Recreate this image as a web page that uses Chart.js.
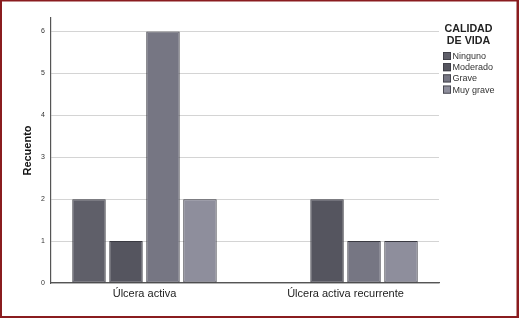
<!DOCTYPE html>
<html>
<head>
<meta charset="utf-8">
<script src="https://cdn.jsdelivr.net/npm/chart.js@4/dist/chart.umd.min.js"></script>
<style>
  html, body { margin: 0; padding: 0; background: #fff; }
  #wrap { width: 519px; height: 318px; position: relative; }
  canvas { display: block; }
</style>
</head>
<body>
<div id="wrap"><canvas id="c" width="519" height="318"></canvas></div>
<script>
// ---- Data ----
const categories = ["Úlcera activa", "Úlcera activa recurrente"];
const seriesNames = ["Ninguno", "Moderado", "Grave", "Muy grave"];
const ninguno  = [2, 0];
const moderado = [1, 2];
const grave    = [6, 1];
const muyGrave = [2, 1];
const yTicks = [0, 1, 2, 3, 4, 5, 6];
const legendTitle = ["CALIDAD", "DE VIDA"];
const yTitle = "Recuento";

const seriesValues = [ninguno, moderado, grave, muyGrave];
const colors = ["#5f5f69", "#55555f", "#767683", "#8e8e9c"];

const datasets = seriesNames.map((name, i) => ({
  label: name,
  data: seriesValues[i].map((v, j) => ({ x: j, y: v })),
  backgroundColor: colors[i],
  borderColor: "#3a3a42",
  borderWidth: 1,
  borderSkipped: false,
  categoryPercentage: 0.736,
  barPercentage: 0.905
}));

const FONT = "'Liberation Sans', Arial, sans-serif";

const extras = {
  id: 'extras',
  afterDraw(chart) {
    const ctx = chart.ctx;
    ctx.save();
    // legend
    const lx = 468.5;
    ctx.fillStyle = "#222";
    ctx.font = "bold 10.7px " + FONT;
    ctx.textAlign = "center";
    ctx.textBaseline = "middle";
    legendTitle.forEach((t, i) => ctx.fillText(t, lx, 29 + i * 12));
    ctx.font = "9px " + FONT;
    ctx.textAlign = "left";
    chart.data.datasets.forEach((ds, i) => {
      const y = 56 + i * 11.2;
      ctx.fillStyle = ds.backgroundColor;
      ctx.fillRect(443, y - 4, 8, 8);
      ctx.strokeStyle = "#3a3a42";
      ctx.lineWidth = 0.8;
      ctx.strokeRect(443.4, y - 3.6, 7.2, 7.2);
      ctx.fillStyle = "#333";
      ctx.fillText(ds.label, 452.5, y + 0.5);
    });
    // frame
    ctx.fillStyle = "#8a1c1f";
    ctx.fillRect(0, 0, 519, 1.5);
    ctx.fillRect(0, 0, 2, 318);
    ctx.fillRect(516.5, 0, 2.5, 318);
    ctx.fillRect(0, 316, 519, 2);
    ctx.restore();
  }
};

new Chart(document.getElementById('c'), {
  type: 'bar',
  data: { datasets },
  plugins: [extras],
  options: {
    responsive: false,
    animation: false,
    layout: { padding: { top: 18, right: 80, left: 0, bottom: 0 } },
    plugins: { legend: { display: false }, tooltip: { enabled: false } },
    scales: {
      x: {
        type: 'linear',
        offset: false,
        min: -0.465,
        max: 1.465,
        afterBuildTicks(scale) { scale.ticks = categories.map((_, i) => ({ value: i })); },
        afterFit(scale) { scale.height = 35; },
        grid: { display: false, drawTicks: false, offset: false },
        border: { display: true, color: "#555", width: 1.2 },
        ticks: {
          padding: 4,
          color: "#222",
          font: { family: FONT, size: 11 },
          callback: (v) => categories[v] ?? ''
        }
      },
      y: {
        min: 0,
        max: 6.32,
        afterBuildTicks(scale) { scale.ticks = yTicks.map(v => ({ value: v })); },
        afterFit(scale) { scale.width = 51; },
        grid: { color: "#d4d4d4", lineWidth: 1, drawTicks: false },
        border: { display: true, color: "#555", width: 1.2 },
        ticks: {
          padding: 6,
          color: "#333",
          font: { family: FONT, size: 7 }
        },
        title: {
          display: true,
          text: yTitle,
          color: "#111",
          font: { family: FONT, size: 11, weight: 'bold' },
          padding: { top: 21, bottom: 0 }
        }
      }
    }
  }
});
</script>
</body>
</html>
